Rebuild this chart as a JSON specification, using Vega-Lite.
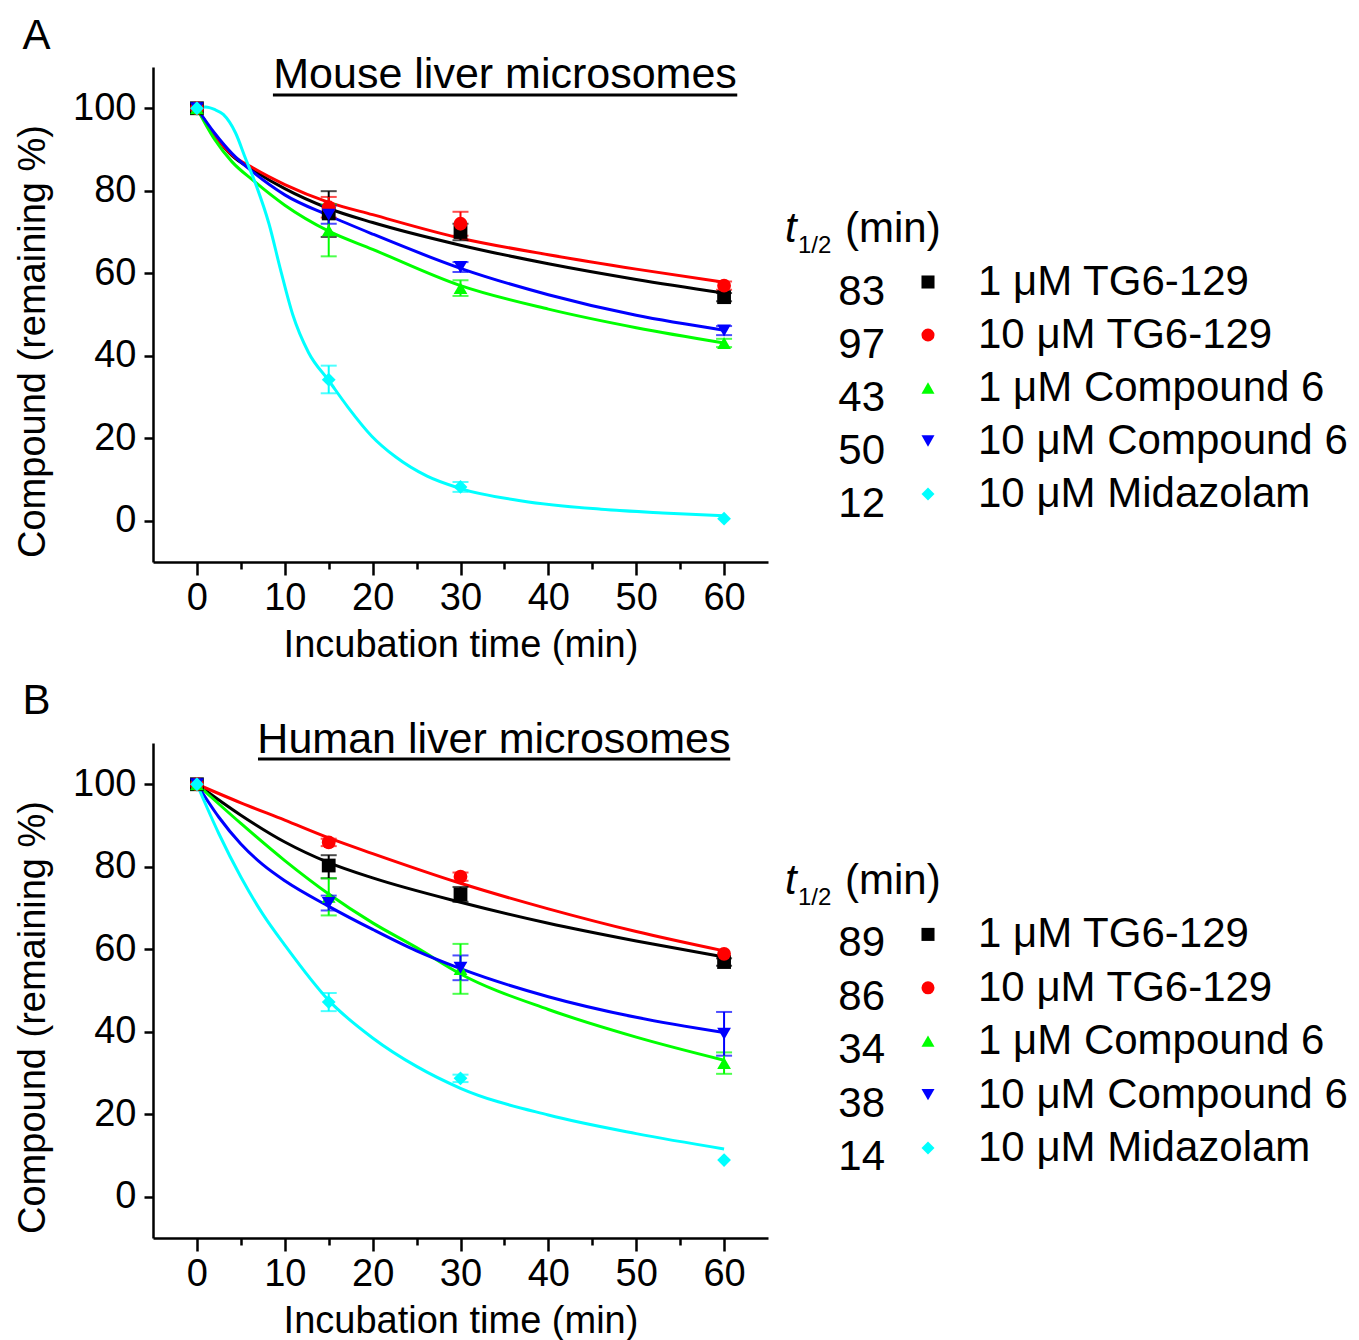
{
  "$schema": "https://vega.github.io/schema/vega-lite/v6.json",
  "background": "white",
  "padding": {"left": 14, "top": 15, "right": 0, "bottom": 0},
  "config": {
    "view": {"stroke": null},
    "font": "Liberation Sans",
    "text": {"font": "Liberation Sans", "color": "black"},
    "title": {"font": "Liberation Sans", "fontWeight": "normal", "color": "black"},
    "axis": {
      "labelFont": "Liberation Sans", "titleFont": "Liberation Sans",
      "labelFontSize": 38, "titleFontSize": 38, "titleFontWeight": "normal",
      "labelColor": "black", "titleColor": "black", "domainColor": "black", "tickColor": "black",
      "domainWidth": 2.5, "tickWidth": 2.5, "grid": false
    }
  },
  "datasets": {
    "curves": [
      {"panel":"A","compound":"1 μM TG6-129","t":0,"v":100},{"panel":"A","compound":"1 μM TG6-129","t":2,"v":93.5},{"panel":"A","compound":"1 μM TG6-129","t":4,"v":88.5},{"panel":"A","compound":"1 μM TG6-129","t":6.4,"v":85},{"panel":"A","compound":"1 μM TG6-129","t":10,"v":80.5},{"panel":"A","compound":"1 μM TG6-129","t":15,"v":75.7},{"panel":"A","compound":"1 μM TG6-129","t":20,"v":72.3},{"panel":"A","compound":"1 μM TG6-129","t":30,"v":66.8},{"panel":"A","compound":"1 μM TG6-129","t":40,"v":62.3},{"panel":"A","compound":"1 μM TG6-129","t":50,"v":58.5},{"panel":"A","compound":"1 μM TG6-129","t":60,"v":55.2},
      {"panel":"A","compound":"10 μM TG6-129","t":0,"v":100},{"panel":"A","compound":"10 μM TG6-129","t":2,"v":93.5},{"panel":"A","compound":"10 μM TG6-129","t":4,"v":88.7},{"panel":"A","compound":"10 μM TG6-129","t":6.4,"v":85.5},{"panel":"A","compound":"10 μM TG6-129","t":10,"v":81.5},{"panel":"A","compound":"10 μM TG6-129","t":15,"v":77.2},{"panel":"A","compound":"10 μM TG6-129","t":20,"v":74.2},{"panel":"A","compound":"10 μM TG6-129","t":30,"v":68.5},{"panel":"A","compound":"10 μM TG6-129","t":40,"v":64.5},{"panel":"A","compound":"10 μM TG6-129","t":50,"v":61},{"panel":"A","compound":"10 μM TG6-129","t":60,"v":57.8},
      {"panel":"A","compound":"1 μM Compound 6","t":0,"v":100},{"panel":"A","compound":"1 μM Compound 6","t":2,"v":92.5},{"panel":"A","compound":"1 μM Compound 6","t":4,"v":87},{"panel":"A","compound":"1 μM Compound 6","t":6.4,"v":82.5},{"panel":"A","compound":"1 μM Compound 6","t":10,"v":76.5},{"panel":"A","compound":"1 μM Compound 6","t":15,"v":70.2},{"panel":"A","compound":"1 μM Compound 6","t":20,"v":65.8},{"panel":"A","compound":"1 μM Compound 6","t":30,"v":57},{"panel":"A","compound":"1 μM Compound 6","t":40,"v":51.3},{"panel":"A","compound":"1 μM Compound 6","t":50,"v":46.8},{"panel":"A","compound":"1 μM Compound 6","t":60,"v":43.1},
      {"panel":"A","compound":"10 μM Compound 6","t":0,"v":100},{"panel":"A","compound":"10 μM Compound 6","t":2,"v":94},{"panel":"A","compound":"10 μM Compound 6","t":4,"v":89},{"panel":"A","compound":"10 μM Compound 6","t":6.4,"v":84.5},{"panel":"A","compound":"10 μM Compound 6","t":10,"v":79},{"panel":"A","compound":"10 μM Compound 6","t":15,"v":74},{"panel":"A","compound":"10 μM Compound 6","t":20,"v":69.5},{"panel":"A","compound":"10 μM Compound 6","t":30,"v":61.2},{"panel":"A","compound":"10 μM Compound 6","t":40,"v":54.8},{"panel":"A","compound":"10 μM Compound 6","t":50,"v":49.8},{"panel":"A","compound":"10 μM Compound 6","t":60,"v":46.2},
      {"panel":"A","compound":"10 μM Midazolam","t":0,"v":100},{"panel":"A","compound":"10 μM Midazolam","t":1,"v":100.3},{"panel":"A","compound":"10 μM Midazolam","t":2,"v":99.7},{"panel":"A","compound":"10 μM Midazolam","t":3,"v":98.5},{"panel":"A","compound":"10 μM Midazolam","t":4.4,"v":94},{"panel":"A","compound":"10 μM Midazolam","t":5.5,"v":88},{"panel":"A","compound":"10 μM Midazolam","t":6.8,"v":81},{"panel":"A","compound":"10 μM Midazolam","t":8.2,"v":72},{"panel":"A","compound":"10 μM Midazolam","t":9.5,"v":61},{"panel":"A","compound":"10 μM Midazolam","t":10.9,"v":50},{"panel":"A","compound":"10 μM Midazolam","t":12.7,"v":40.8},{"panel":"A","compound":"10 μM Midazolam","t":15,"v":34},{"panel":"A","compound":"10 μM Midazolam","t":17.2,"v":27.5},{"panel":"A","compound":"10 μM Midazolam","t":19.9,"v":20.5},{"panel":"A","compound":"10 μM Midazolam","t":22.6,"v":15.5},{"panel":"A","compound":"10 μM Midazolam","t":26.2,"v":10.8},{"panel":"A","compound":"10 μM Midazolam","t":30,"v":7.8},{"panel":"A","compound":"10 μM Midazolam","t":37,"v":4.8},{"panel":"A","compound":"10 μM Midazolam","t":46,"v":2.8},{"panel":"A","compound":"10 μM Midazolam","t":53,"v":1.9},{"panel":"A","compound":"10 μM Midazolam","t":60,"v":1.2},
      {"panel":"B","compound":"1 μM TG6-129","t":0,"v":100},{"panel":"B","compound":"1 μM TG6-129","t":5,"v":92.5},{"panel":"B","compound":"1 μM TG6-129","t":10,"v":86},{"panel":"B","compound":"1 μM TG6-129","t":15,"v":81},{"panel":"B","compound":"1 μM TG6-129","t":20,"v":77.3},{"panel":"B","compound":"1 μM TG6-129","t":30,"v":71.4},{"panel":"B","compound":"1 μM TG6-129","t":40,"v":66.3},{"panel":"B","compound":"1 μM TG6-129","t":50,"v":62},{"panel":"B","compound":"1 μM TG6-129","t":60,"v":58.1},
      {"panel":"B","compound":"10 μM TG6-129","t":0,"v":100},{"panel":"B","compound":"10 μM TG6-129","t":5,"v":95.5},{"panel":"B","compound":"10 μM TG6-129","t":10,"v":91.3},{"panel":"B","compound":"10 μM TG6-129","t":15,"v":87},{"panel":"B","compound":"10 μM TG6-129","t":20,"v":83.2},{"panel":"B","compound":"10 μM TG6-129","t":30,"v":76},{"panel":"B","compound":"10 μM TG6-129","t":40,"v":69.8},{"panel":"B","compound":"10 μM TG6-129","t":50,"v":64.3},{"panel":"B","compound":"10 μM TG6-129","t":60,"v":59.6},
      {"panel":"B","compound":"1 μM Compound 6","t":0,"v":100},{"panel":"B","compound":"1 μM Compound 6","t":5,"v":90.5},{"panel":"B","compound":"1 μM Compound 6","t":10,"v":81.5},{"panel":"B","compound":"1 μM Compound 6","t":15,"v":73.4},{"panel":"B","compound":"1 μM Compound 6","t":20,"v":66.4},{"panel":"B","compound":"1 μM Compound 6","t":25,"v":60.4},{"panel":"B","compound":"1 μM Compound 6","t":30,"v":54},{"panel":"B","compound":"1 μM Compound 6","t":40,"v":45.4},{"panel":"B","compound":"1 μM Compound 6","t":50,"v":38.7},{"panel":"B","compound":"1 μM Compound 6","t":60,"v":33.1},
      {"panel":"B","compound":"10 μM Compound 6","t":0,"v":100},{"panel":"B","compound":"10 μM Compound 6","t":2.5,"v":92},{"panel":"B","compound":"10 μM Compound 6","t":5,"v":85.5},{"panel":"B","compound":"10 μM Compound 6","t":7.5,"v":80.5},{"panel":"B","compound":"10 μM Compound 6","t":10,"v":76.6},{"panel":"B","compound":"10 μM Compound 6","t":15,"v":70.4},{"panel":"B","compound":"10 μM Compound 6","t":20,"v":64.8},{"panel":"B","compound":"10 μM Compound 6","t":25,"v":59.6},{"panel":"B","compound":"10 μM Compound 6","t":30,"v":55.3},{"panel":"B","compound":"10 μM Compound 6","t":40,"v":48.5},{"panel":"B","compound":"10 μM Compound 6","t":50,"v":43.5},{"panel":"B","compound":"10 μM Compound 6","t":60,"v":39.8},
      {"panel":"B","compound":"10 μM Midazolam","t":0,"v":100},{"panel":"B","compound":"10 μM Midazolam","t":2.5,"v":88},{"panel":"B","compound":"10 μM Midazolam","t":5,"v":77.5},{"panel":"B","compound":"10 μM Midazolam","t":7.5,"v":68.5},{"panel":"B","compound":"10 μM Midazolam","t":10,"v":61},{"panel":"B","compound":"10 μM Midazolam","t":15,"v":47.6},{"panel":"B","compound":"10 μM Midazolam","t":20,"v":38.5},{"panel":"B","compound":"10 μM Midazolam","t":25,"v":31.6},{"panel":"B","compound":"10 μM Midazolam","t":30,"v":26.3},{"panel":"B","compound":"10 μM Midazolam","t":40,"v":19.8},{"panel":"B","compound":"10 μM Midazolam","t":50,"v":15.3},{"panel":"B","compound":"10 μM Midazolam","t":60,"v":11.6}
    ],
    "points": [
      {"panel":"A","compound":"1 μM TG6-129","t":0,"v":100},{"panel":"A","compound":"1 μM TG6-129","t":15,"v":74.5},{"panel":"A","compound":"1 μM TG6-129","t":30,"v":70.0},{"panel":"A","compound":"1 μM TG6-129","t":60,"v":54.2},
      {"panel":"A","compound":"10 μM TG6-129","t":0,"v":100},{"panel":"A","compound":"10 μM TG6-129","t":15,"v":76},{"panel":"A","compound":"10 μM TG6-129","t":30,"v":72},{"panel":"A","compound":"10 μM TG6-129","t":60,"v":57},
      {"panel":"A","compound":"1 μM Compound 6","t":0,"v":100},{"panel":"A","compound":"1 μM Compound 6","t":15,"v":70.4},{"panel":"A","compound":"1 μM Compound 6","t":30,"v":56.4},{"panel":"A","compound":"1 μM Compound 6","t":60,"v":43.1},
      {"panel":"A","compound":"10 μM Compound 6","t":0,"v":100},{"panel":"A","compound":"10 μM Compound 6","t":15,"v":74.2},{"panel":"A","compound":"10 μM Compound 6","t":30,"v":61.5},{"panel":"A","compound":"10 μM Compound 6","t":60,"v":46.1},
      {"panel":"A","compound":"10 μM Midazolam","t":0,"v":100},{"panel":"A","compound":"10 μM Midazolam","t":15,"v":34.2},{"panel":"A","compound":"10 μM Midazolam","t":30,"v":8.2},{"panel":"A","compound":"10 μM Midazolam","t":60,"v":0.5},
      {"panel":"B","compound":"1 μM TG6-129","t":0,"v":100},{"panel":"B","compound":"1 μM TG6-129","t":15,"v":80.3},{"panel":"B","compound":"1 μM TG6-129","t":30,"v":73.3},{"panel":"B","compound":"1 μM TG6-129","t":60,"v":56.9},
      {"panel":"B","compound":"10 μM TG6-129","t":0,"v":100},{"panel":"B","compound":"10 μM TG6-129","t":15,"v":85.9},{"panel":"B","compound":"10 μM TG6-129","t":30,"v":77.6},{"panel":"B","compound":"10 μM TG6-129","t":60,"v":58.9},
      {"panel":"B","compound":"1 μM Compound 6","t":0,"v":100},{"panel":"B","compound":"1 μM Compound 6","t":15,"v":72.7},{"panel":"B","compound":"1 μM Compound 6","t":30,"v":55.2},{"panel":"B","compound":"1 μM Compound 6","t":60,"v":32.4},
      {"panel":"B","compound":"10 μM Compound 6","t":0,"v":100},{"panel":"B","compound":"10 μM Compound 6","t":15,"v":71.2},{"panel":"B","compound":"10 μM Compound 6","t":30,"v":55.5},{"panel":"B","compound":"10 μM Compound 6","t":60,"v":39.5},
      {"panel":"B","compound":"10 μM Midazolam","t":0,"v":100},{"panel":"B","compound":"10 μM Midazolam","t":15,"v":47.2},{"panel":"B","compound":"10 μM Midazolam","t":30,"v":28.7},{"panel":"B","compound":"10 μM Midazolam","t":60,"v":8.9}
    ],
    "errors": [
      {"panel":"A","compound":"1 μM TG6-129","t":15,"lo":68.8,"hi":79.9},{"panel":"A","compound":"1 μM TG6-129","t":30,"lo":68,"hi":72},{"panel":"A","compound":"1 μM TG6-129","t":60,"lo":53.2,"hi":55.2},
      {"panel":"A","compound":"10 μM TG6-129","t":15,"lo":73.5,"hi":78.5},{"panel":"A","compound":"10 μM TG6-129","t":30,"lo":69.1,"hi":74.9},{"panel":"A","compound":"10 μM TG6-129","t":60,"lo":56,"hi":58},
      {"panel":"A","compound":"1 μM Compound 6","t":15,"lo":64.1,"hi":76.7},{"panel":"A","compound":"1 μM Compound 6","t":30,"lo":54.5,"hi":58.3},{"panel":"A","compound":"1 μM Compound 6","t":60,"lo":42.1,"hi":44.1},
      {"panel":"A","compound":"10 μM Compound 6","t":15,"lo":72,"hi":76.4},{"panel":"A","compound":"10 μM Compound 6","t":30,"lo":60.3,"hi":62.7},{"panel":"A","compound":"10 μM Compound 6","t":60,"lo":45,"hi":47.2},
      {"panel":"A","compound":"10 μM Midazolam","t":15,"lo":30.9,"hi":37.6},{"panel":"A","compound":"10 μM Midazolam","t":30,"lo":7,"hi":9.4},
      {"panel":"B","compound":"1 μM TG6-129","t":15,"lo":77.2,"hi":82.8},{"panel":"B","compound":"1 μM TG6-129","t":30,"lo":71.5,"hi":75.1},{"panel":"B","compound":"1 μM TG6-129","t":60,"lo":56,"hi":57.8},
      {"panel":"B","compound":"10 μM TG6-129","t":15,"lo":85,"hi":86.8},{"panel":"B","compound":"10 μM TG6-129","t":30,"lo":76.6,"hi":78.6},
      {"panel":"B","compound":"1 μM Compound 6","t":15,"lo":68.2,"hi":77.2},{"panel":"B","compound":"1 μM Compound 6","t":30,"lo":49.2,"hi":61.3},{"panel":"B","compound":"1 μM Compound 6","t":60,"lo":29.8,"hi":35},
      {"panel":"B","compound":"10 μM Compound 6","t":15,"lo":69.4,"hi":73},{"panel":"B","compound":"10 μM Compound 6","t":30,"lo":52.5,"hi":58.5},{"panel":"B","compound":"10 μM Compound 6","t":60,"lo":34.2,"hi":44.8},
      {"panel":"B","compound":"10 μM Midazolam","t":15,"lo":45,"hi":49.4},{"panel":"B","compound":"10 μM Midazolam","t":30,"lo":27.8,"hi":29.6}
    ],
    "legend": [
      {"panel":"A","compound":"1 μM TG6-129","t_half":"83"},{"panel":"A","compound":"10 μM TG6-129","t_half":"97"},{"panel":"A","compound":"1 μM Compound 6","t_half":"43"},{"panel":"A","compound":"10 μM Compound 6","t_half":"50"},{"panel":"A","compound":"10 μM Midazolam","t_half":"12"},
      {"panel":"B","compound":"1 μM TG6-129","t_half":"89"},{"panel":"B","compound":"10 μM TG6-129","t_half":"86"},{"panel":"B","compound":"1 μM Compound 6","t_half":"34"},{"panel":"B","compound":"10 μM Compound 6","t_half":"38"},{"panel":"B","compound":"10 μM Midazolam","t_half":"14"}
    ]
  },
  "columns": 2,
  "spacing": {"row": 181, "column": 11},
  "bounds": "flush",
  "concat": [
    {
      "width": 615, "height": 495,
      "title": {"text": "A", "anchor": "start", "frame": "bounds", "fontSize": 42, "offset": -4, "dx": 8},
      "layer": [
        {
          "data": {"name": "curves"}, "transform": [{"filter": "datum.panel === 'A'"}],
          "mark": {"type": "line", "interpolate": "monotone", "strokeWidth": 3},
          "encoding": {
            "x": {"field": "t", "type": "quantitative", "title": "Incubation time (min)", "scale": {"domain": [-5, 65], "nice": false, "zero": false},
                  "axis": {"title": "Incubation time (min)", "values": [0,5,10,15,20,25,30,35,40,45,50,55,60], "labelExpr": "datum.value % 10 === 0 ? datum.label : ''", "tickSize": {"condition": {"test": "datum.value % 10 !== 0", "value": 7}, "value": 13}, "labelPadding": 4, "titlePadding": 9, "labelFlush": false}},
            "y": {"field": "v", "type": "quantitative", "title": "Compound (remaining %)", "scale": {"domain": [-10, 110], "nice": false, "zero": false},
                  "axis": {"title": "Compound (remaining %)", "values": [0,20,40,60,80,100], "tickSize": 9, "labelPadding": 8, "titlePadding": 20, "titleY": 274, "labelFlush": false}},
            "color": {"field": "compound", "type": "nominal", "legend": null, "scale": {"domain": ["1 μM TG6-129","10 μM TG6-129","1 μM Compound 6","10 μM Compound 6","10 μM Midazolam"], "range": ["#000000","#ff0000","#00ff00","#0000ff","#00ffff"]}}
          }
        },
        {
          "data": {"name": "errors"}, "transform": [{"filter": "datum.panel === 'A'"}],
          "mark": {"type": "errorbar", "ticks": {"size": 16}, "thickness": 2},
          "encoding": {
            "x": {"field": "t", "type": "quantitative", "title": "Incubation time (min)"},
            "y": {"field": "lo", "type": "quantitative", "title": "Compound (remaining %)"},
            "y2": {"field": "hi"},
            "color": {"field": "compound", "type": "nominal", "legend": null}
          }
        },
        {
          "data": {"name": "points"}, "transform": [{"filter": "datum.panel === 'A'"}],
          "mark": {"type": "point", "filled": true, "size": 190, "opacity": 1},
          "encoding": {
            "x": {"field": "t", "type": "quantitative", "title": "Incubation time (min)"},
            "y": {"field": "v", "type": "quantitative", "title": "Compound (remaining %)"},
            "color": {"field": "compound", "type": "nominal", "legend": null},
            "shape": {"field": "compound", "type": "nominal", "legend": null, "scale": {"domain": ["1 μM TG6-129","10 μM TG6-129","1 μM Compound 6","10 μM Compound 6","10 μM Midazolam"], "range": ["square","circle","triangle-up","triangle-down","diamond"]}}
          }
        },
        {
          "data": {"values": [{"label": "Mouse liver microsomes"}]},
          "mark": {"type": "text", "fontSize": 43, "align": "center", "baseline": "alphabetic"},
          "encoding": {"x": {"datum": 35.07, "title": "Incubation time (min)"}, "y": {"datum": 104.9, "title": "Compound (remaining %)"}, "text": {"field": "label"}}
        },
        {
          "data": {"values": [{"label": "underline"}]},
          "mark": {"type": "rule", "strokeWidth": 3, "color": "black"},
          "encoding": {"x": {"datum": 8.65, "title": "Incubation time (min)"}, "x2": {"datum": 61.5}, "y": {"datum": 103.2, "title": "Compound (remaining %)"}}
        }
      ]
    },
    {
      "width": 580, "height": 495,
      "data": {"name": "legend"},
      "transform": [{"filter": "datum.panel === 'A'"}],
      "encoding": {
        "y": {"field": "compound", "type": "nominal", "axis": null, "scale": {"type": "point", "padding": 0, "domain": ["title","1 μM TG6-129","10 μM TG6-129","1 μM Compound 6","10 μM Compound 6","10 μM Midazolam"], "range": [162, 427]}}
      },
      "layer": [
        {"mark": {"type": "text", "align": "right", "baseline": "middle", "fontSize": 42, "dy": 10},
         "encoding": {"x": {"datum": 106, "scale": {"domain": [0, 580], "nice": false, "zero": false}, "axis": null}, "text": {"field": "t_half"}}},
        {"mark": {"type": "point", "filled": true, "size": 170, "opacity": 1},
         "encoding": {"x": {"datum": 149, "axis": null},
           "color": {"field": "compound", "type": "nominal", "legend": null, "scale": {"domain": ["1 μM TG6-129","10 μM TG6-129","1 μM Compound 6","10 μM Compound 6","10 μM Midazolam"], "range": ["#000000","#ff0000","#00ff00","#0000ff","#00ffff"]}},
           "shape": {"field": "compound", "type": "nominal", "legend": null, "scale": {"domain": ["1 μM TG6-129","10 μM TG6-129","1 μM Compound 6","10 μM Compound 6","10 μM Midazolam"], "range": ["square","circle","triangle-up","triangle-down","diamond"]}}}},
        {"mark": {"type": "text", "align": "left", "baseline": "middle", "fontSize": 42},
         "encoding": {"x": {"datum": 199, "axis": null}, "text": {"field": "compound"}}},
        {"data": {"values": [{"s": "t"}]}, "mark": {"type": "text", "align": "left", "baseline": "middle", "fontSize": 42, "fontStyle": "italic"},
         "encoding": {"x": {"datum": 6, "axis": null}, "y": {"datum": "title", "axis": null}, "text": {"field": "s"}}},
        {"data": {"values": [{"s": "1/2"}]}, "mark": {"type": "text", "align": "left", "baseline": "middle", "fontSize": 24, "dy": 17},
         "encoding": {"x": {"datum": 19, "axis": null}, "y": {"datum": "title", "axis": null}, "text": {"field": "s"}}},
        {"data": {"values": [{"s": "(min)"}]}, "mark": {"type": "text", "align": "left", "baseline": "middle", "fontSize": 42},
         "encoding": {"x": {"datum": 66, "axis": null}, "y": {"datum": "title", "axis": null}, "text": {"field": "s"}}}
      ]
    },
    {
      "width": 615, "height": 495,
      "title": {"text": "B", "anchor": "start", "frame": "bounds", "fontSize": 42, "offset": -4, "dx": 8},
      "layer": [
        {
          "data": {"name": "curves"}, "transform": [{"filter": "datum.panel === 'B'"}],
          "mark": {"type": "line", "interpolate": "monotone", "strokeWidth": 3},
          "encoding": {
            "x": {"field": "t", "type": "quantitative", "title": "Incubation time (min)", "scale": {"domain": [-5, 65], "nice": false, "zero": false},
                  "axis": {"title": "Incubation time (min)", "values": [0,5,10,15,20,25,30,35,40,45,50,55,60], "labelExpr": "datum.value % 10 === 0 ? datum.label : ''", "tickSize": {"condition": {"test": "datum.value % 10 !== 0", "value": 7}, "value": 13}, "labelPadding": 4, "titlePadding": 9, "labelFlush": false}},
            "y": {"field": "v", "type": "quantitative", "title": "Compound (remaining %)", "scale": {"domain": [-10, 110], "nice": false, "zero": false},
                  "axis": {"title": "Compound (remaining %)", "values": [0,20,40,60,80,100], "tickSize": 9, "labelPadding": 8, "titlePadding": 20, "titleY": 274, "labelFlush": false}},
            "color": {"field": "compound", "type": "nominal", "legend": null, "scale": {"domain": ["1 μM TG6-129","10 μM TG6-129","1 μM Compound 6","10 μM Compound 6","10 μM Midazolam"], "range": ["#000000","#ff0000","#00ff00","#0000ff","#00ffff"]}}
          }
        },
        {
          "data": {"name": "errors"}, "transform": [{"filter": "datum.panel === 'B'"}],
          "mark": {"type": "errorbar", "ticks": {"size": 16}, "thickness": 2},
          "encoding": {
            "x": {"field": "t", "type": "quantitative", "title": "Incubation time (min)"},
            "y": {"field": "lo", "type": "quantitative", "title": "Compound (remaining %)"},
            "y2": {"field": "hi"},
            "color": {"field": "compound", "type": "nominal", "legend": null}
          }
        },
        {
          "data": {"name": "points"}, "transform": [{"filter": "datum.panel === 'B'"}],
          "mark": {"type": "point", "filled": true, "size": 190, "opacity": 1},
          "encoding": {
            "x": {"field": "t", "type": "quantitative", "title": "Incubation time (min)"},
            "y": {"field": "v", "type": "quantitative", "title": "Compound (remaining %)"},
            "color": {"field": "compound", "type": "nominal", "legend": null},
            "shape": {"field": "compound", "type": "nominal", "legend": null, "scale": {"domain": ["1 μM TG6-129","10 μM TG6-129","1 μM Compound 6","10 μM Compound 6","10 μM Midazolam"], "range": ["square","circle","triangle-up","triangle-down","diamond"]}}
          }
        },
        {
          "data": {"values": [{"label": "Human liver microsomes"}]},
          "mark": {"type": "text", "fontSize": 43, "align": "center", "baseline": "alphabetic"},
          "encoding": {"x": {"datum": 33.8, "title": "Incubation time (min)"}, "y": {"datum": 107.6, "title": "Compound (remaining %)"}, "text": {"field": "label"}}
        },
        {
          "data": {"values": [{"label": "underline"}]},
          "mark": {"type": "rule", "strokeWidth": 3, "color": "black"},
          "encoding": {"x": {"datum": 6.95, "title": "Incubation time (min)"}, "x2": {"datum": 60.7}, "y": {"datum": 106.1, "title": "Compound (remaining %)"}}
        }
      ]
    },
    {
      "width": 580, "height": 495,
      "data": {"name": "legend"},
      "transform": [{"filter": "datum.panel === 'B'"}],
      "encoding": {
        "y": {"field": "compound", "type": "nominal", "axis": null, "scale": {"type": "point", "padding": 0, "domain": ["title","1 μM TG6-129","10 μM TG6-129","1 μM Compound 6","10 μM Compound 6","10 μM Midazolam"], "range": [138, 405]}}
      },
      "layer": [
        {"mark": {"type": "text", "align": "right", "baseline": "middle", "fontSize": 42, "dy": 9},
         "encoding": {"x": {"datum": 106, "scale": {"domain": [0, 580], "nice": false, "zero": false}, "axis": null}, "text": {"field": "t_half"}}},
        {"mark": {"type": "point", "filled": true, "size": 170, "opacity": 1},
         "encoding": {"x": {"datum": 149, "axis": null},
           "color": {"field": "compound", "type": "nominal", "legend": null, "scale": {"domain": ["1 μM TG6-129","10 μM TG6-129","1 μM Compound 6","10 μM Compound 6","10 μM Midazolam"], "range": ["#000000","#ff0000","#00ff00","#0000ff","#00ffff"]}},
           "shape": {"field": "compound", "type": "nominal", "legend": null, "scale": {"domain": ["1 μM TG6-129","10 μM TG6-129","1 μM Compound 6","10 μM Compound 6","10 μM Midazolam"], "range": ["square","circle","triangle-up","triangle-down","diamond"]}}}},
        {"mark": {"type": "text", "align": "left", "baseline": "middle", "fontSize": 42},
         "encoding": {"x": {"datum": 199, "axis": null}, "text": {"field": "compound"}}},
        {"data": {"values": [{"s": "t"}]}, "mark": {"type": "text", "align": "left", "baseline": "middle", "fontSize": 42, "fontStyle": "italic"},
         "encoding": {"x": {"datum": 6, "axis": null}, "y": {"datum": "title", "axis": null}, "text": {"field": "s"}}},
        {"data": {"values": [{"s": "1/2"}]}, "mark": {"type": "text", "align": "left", "baseline": "middle", "fontSize": 24, "dy": 17},
         "encoding": {"x": {"datum": 19, "axis": null}, "y": {"datum": "title", "axis": null}, "text": {"field": "s"}}},
        {"data": {"values": [{"s": "(min)"}]}, "mark": {"type": "text", "align": "left", "baseline": "middle", "fontSize": 42},
         "encoding": {"x": {"datum": 66, "axis": null}, "y": {"datum": "title", "axis": null}, "text": {"field": "s"}}}
      ]
    }
  ]
}
